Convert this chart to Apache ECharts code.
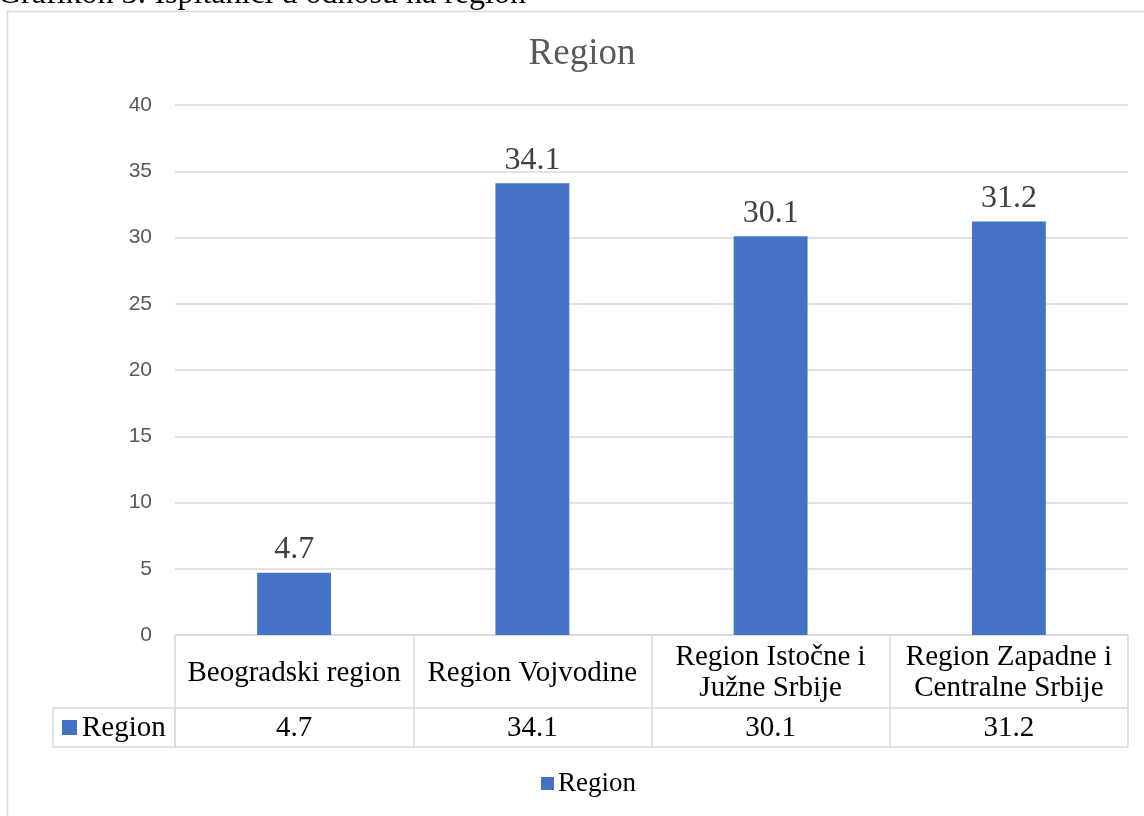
<!DOCTYPE html>
<html>
<head>
<meta charset="utf-8">
<script src="https://cdn.jsdelivr.net/npm/echarts@6/dist/echarts.min.js"></script>
<style>html,body{margin:0;padding:0;background:#fff}#c{width:1144px;height:816px}</style>
</head>
<body>
<div id="c"></div>
<script>
const categories = ['Beogradski region', 'Region Vojvodine', 'Region Istočne i Južne Srbije', 'Region Zapadne i Centralne Srbije'];
const categoryLabels = ['Beogradski region', 'Region Vojvodine', 'Region Istočne i\nJužne Srbije', 'Region Zapadne i\nCentralne Srbije'];
const values = [4.7, 34.1, 30.1, 31.2];
const seriesName = 'Region';
const chartTitle = 'Region';
const caption = 'Grafikon 3: Ispitanici u odnosu na region';

const SERIF = '"Liberation Serif", "Times New Roman", serif';
const SANS = '"Liberation Sans", "Open Sans", sans-serif';
const GRID = '#d9d9d9';
const BLUE = '#4472C4';

const chart = echarts.init(document.getElementById('c'));
const option = {
  animation: false,
  title: {
    text: chartTitle, left: 577, textAlign: 'center', top: 31,
    textStyle: { fontFamily: SERIF, fontSize: 37, fontWeight: 'normal', color: '#595959' }
  },
  legend: {
    bottom: 14, left: 536, icon: 'rect', itemWidth: 13, itemHeight: 13, itemGap: 4,
    data: [seriesName],
    textStyle: { fontFamily: SERIF, fontSize: 27, color: '#000', padding: [0, 0, 0, -1] }
  },
  grid: { left: 175, right: 16, top: 105, bottom: 181, containLabel: false },
  xAxis: [
    {
      type: 'category', data: categories,
      axisLine: { show: true, lineStyle: { color: GRID, width: 1.5 } },
      axisTick: { show: true, length: 112, lineStyle: { color: GRID, width: 1.5 } },
      axisLabel: {
        interval: 0, margin: 38, verticalAlign: 'middle', lineHeight: 31,
        fontFamily: SERIF, fontSize: 29, color: '#000',
        formatter: (v, i) => categoryLabels[i]
      }
    },
    {
      type: 'category', data: categories, position: 'bottom', offset: 0,
      axisLine: { show: false }, axisTick: { show: false },
      axisLabel: {
        interval: 0, margin: 93, verticalAlign: 'middle',
        fontFamily: SERIF, fontSize: 29, color: '#000',
        formatter: (v, i) => String(values[i])
      }
    }
  ],
  yAxis: {
    type: 'value', min: 0, max: 40, interval: 5,
    axisLine: { show: false }, axisTick: { show: false },
    axisLabel: { margin: 23, fontFamily: SANS, fontSize: 21, color: '#595959' },
    splitLine: { lineStyle: { color: GRID, width: 1.5 } }
  },
  series: [{
    name: seriesName, type: 'bar', data: values, barWidth: '31%',
    itemStyle: { color: BLUE },
    label: { show: true, position: 'top', distance: 7, fontFamily: SERIF, fontSize: 32, color: '#404040' }
  }]
};
chart.setOption(option);

// table decorations derived from the grid
const c0 = chart.convertToPixel({ gridIndex: 0 }, [0, 0]);
const c1 = chart.convertToPixel({ gridIndex: 0 }, [1, 0]);
const cN = chart.convertToPixel({ gridIndex: 0 }, [categories.length - 1, 0]);
const step = c1[0] - c0[0];
const x0 = c0[0] - step / 2;
const x1 = cN[0] + step / 2;
const y0 = c0[1];
const rowTop = y0 + 73, rowBot = y0 + 112, keyLeft = 53;
const ls = { stroke: GRID, lineWidth: 1.5 };
chart.setOption({
  graphic: [
    { type: 'rect', shape: { x: 7.5, y: 11.5, width: 1160, height: 830 }, style: { fill: null, stroke: GRID, lineWidth: 1.5 }, silent: true, z: -10 },
    { type: 'text', x: -2, y: 11, style: { text: caption, font: '32px ' + SERIF, fill: '#000', verticalAlign: 'bottom' } },
    { type: 'line', shape: { x1: keyLeft, y1: rowTop, x2: x1, y2: rowTop }, style: ls },
    { type: 'line', shape: { x1: keyLeft, y1: rowBot, x2: x1, y2: rowBot }, style: ls },
    { type: 'line', shape: { x1: keyLeft, y1: rowTop, x2: keyLeft, y2: rowBot }, style: ls },
    { type: 'line', shape: { x1: x0, y1: rowTop, x2: x0, y2: rowBot }, style: ls },
    { type: 'rect', shape: { x: 62, y: (rowTop + rowBot) / 2 - 7.5, width: 15, height: 15 }, style: { fill: BLUE } },
    { type: 'text', x: 82, y: (rowTop + rowBot) / 2 + 1, style: { text: seriesName, font: '29px ' + SERIF, fill: '#000', verticalAlign: 'middle' } }
  ]
});
</script>
</body>
</html>
